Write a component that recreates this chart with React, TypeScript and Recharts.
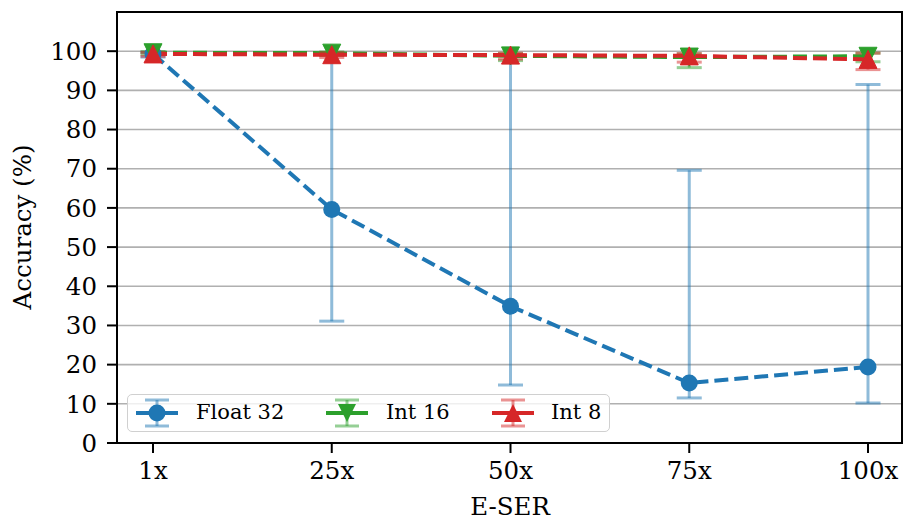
import React from "react";
import { LineChart, Line, XAxis, YAxis, CartesianGrid, ErrorBar } from "recharts";

const categories = ["1x", "25x", "50x", "75x", "100x"];
const float32 = [99.3, 59.6, 34.9, 15.3, 19.4];
const float32Err = [[0.8, 0.4], [28.5, 39.8], [20.1, 64.1], [3.8, 54.3], [9.2, 72.1]];
const int16 = [99.6, 99.5, 98.8, 98.5, 98.7];
const int16Err = [[0.4, 0.3], [0.6, 0.3], [1.2, 0.6], [2.7, 0.8], [1.4, 0.8]];
const int8 = [99.3, 99.1, 99.0, 98.8, 97.9];
const int8Err = [[0.6, 0.4], [0.7, 0.5], [1.0, 0.5], [1.6, 0.6], [2.6, 1.6]];
const yTicks = [0, 10, 20, 30, 40, 50, 60, 70, 80, 90, 100];

const BLUE = "#1f77b4";
const GREEN = "#2ca02c";
const RED = "#d62728";
const FONT = "'DejaVu Serif', serif";
const TICK_FS = 24.5;

const data = categories.map((c, i) => ({
  name: c,
  f32: float32[i],
  f32Err: float32Err[i],
  i16: int16[i],
  i16Err: int16Err[i],
  i8: int8[i],
  i8Err: int8Err[i],
}));

const M = 18;

function TriUp(props: any) {
  const { cx, cy, index } = props;
  if (cx == null || cy == null) return null;
  const h = M / 2;
  return (
    <path
      key={`up-${index}`}
      d={`M${cx},${cy - h} L${cx + h},${cy + h} L${cx - h},${cy + h} Z`}
      fill={RED}
      stroke={RED}
      strokeWidth={1}
    />
  );
}

function TriDown(props: any) {
  const { cx, cy, index } = props;
  if (cx == null || cy == null) return null;
  const h = M / 2;
  return (
    <path
      key={`down-${index}`}
      d={`M${cx},${cy + h} L${cx + h},${cy - h} L${cx - h},${cy - h} Z`}
      fill={GREEN}
      stroke={GREEN}
      strokeWidth={1}
    />
  );
}

function LegendIcon({ color, kind }: { color: string; kind: "circle" | "down" | "up" }) {
  const cx = 21;
  const cy = 17;
  let marker;
  if (kind === "circle") marker = <circle cx={cx} cy={cy} r={8.5} fill={color} />;
  else if (kind === "down")
    marker = <path d={`M${cx},${cy + 9} L${cx + 9},${cy - 9} L${cx - 9},${cy - 9} Z`} fill={color} />;
  else marker = <path d={`M${cx},${cy - 9} L${cx + 9},${cy + 9} L${cx - 9},${cy + 9} Z`} fill={color} />;
  return (
    <svg width={42} height={34} style={{ display: "block" }}>
      <g stroke={color} strokeOpacity={0.5} strokeWidth={3}>
        <line x1={cx} y1={4} x2={cx} y2={30} />
        <line x1={cx - 12} y1={4} x2={cx + 12} y2={4} />
        <line x1={cx - 12} y1={30} x2={cx + 12} y2={30} />
      </g>
      <line x1={0} y1={cy} x2={42} y2={cy} stroke={color} strokeWidth={4} />
      {marker}
    </svg>
  );
}

export default function App() {
  return (
    <div style={{ position: "relative", width: 904, height: 521, fontFamily: FONT, background: "#fff" }}>
      <style>{"body{margin:0}"}</style>
      <LineChart
        width={904}
        height={521}
        data={data}
        margin={{ top: 12, right: 1, bottom: 0, left: 0 }}
      >
        <CartesianGrid vertical={false} stroke="#b0b0b0" strokeWidth={1.6} />
        <XAxis
          dataKey="name"
          height={78}
          padding={{ left: 36, right: 35 }}
          tickLine={{ stroke: "#000", strokeWidth: 2 }}
          axisLine={{ stroke: "#000", strokeWidth: 2 }}
          tickSize={10}
          tickMargin={9}
          tick={{ fill: "#000", fontSize: TICK_FS, fontFamily: FONT }}
        />
        <YAxis
          width={117}
          domain={[0, 110]}
          ticks={yTicks}
          allowDataOverflow
          tickLine={{ stroke: "#000", strokeWidth: 2 }}
          axisLine={{ stroke: "#000", strokeWidth: 2 }}
          tickSize={10}
          tickMargin={10}
          tick={{ fill: "#000", fontSize: TICK_FS, fontFamily: FONT }}
        />
        <Line
          dataKey="f32"
          stroke={BLUE}
          strokeWidth={4}
          strokeDasharray="14 6"
          dot={{ r: 8.5, fill: BLUE, stroke: BLUE, strokeWidth: 0 }}
          isAnimationActive={false}
        >
          <ErrorBar dataKey="f32Err" width={12.5} stroke={BLUE} strokeOpacity={0.5} strokeWidth={3} direction="y" />
        </Line>
        <Line
          dataKey="i16"
          stroke={GREEN}
          strokeWidth={4}
          strokeDasharray="14 6"
          dot={TriDown}
          isAnimationActive={false}
        >
          <ErrorBar dataKey="i16Err" width={12.5} stroke={GREEN} strokeOpacity={0.5} strokeWidth={3} direction="y" />
        </Line>
        <Line
          dataKey="i8"
          stroke={RED}
          strokeWidth={4}
          strokeDasharray="14 6"
          dot={TriUp}
          isAnimationActive={false}
        >
          <ErrorBar dataKey="i8Err" width={12.5} stroke={RED} strokeOpacity={0.5} strokeWidth={3} direction="y" />
        </Line>
      </LineChart>

      {/* top and right frame */}
      <div style={{ position: "absolute", left: 116, top: 11, width: 787, height: 432, borderTop: "2px solid #000", borderRight: "2px solid #000", boxSizing: "border-box", pointerEvents: "none" }} />

      {/* legend */}
      <div
        style={{
          position: "absolute",
          left: 127,
          top: 394,
          width: 483,
          height: 38,
          boxSizing: "border-box",
          border: "1.5px solid #d0d0d0",
          borderRadius: 5,
          background: "rgba(255,255,255,0.8)",
          fontSize: 21,
          lineHeight: "26px",
          color: "#000",
        }}
      >
        <div style={{ position: "absolute", left: 8, top: 1 }}><LegendIcon color={BLUE} kind="circle" /></div>
        <div style={{ position: "absolute", left: 68, top: 4 }}>Float 32</div>
        <div style={{ position: "absolute", left: 198, top: 1 }}><LegendIcon color={GREEN} kind="down" /></div>
        <div style={{ position: "absolute", left: 258, top: 4 }}>Int 16</div>
        <div style={{ position: "absolute", left: 364, top: 1 }}><LegendIcon color={RED} kind="up" /></div>
        <div style={{ position: "absolute", left: 423, top: 4 }}>Int 8</div>
      </div>

      {/* axis titles */}
      <div style={{ position: "absolute", left: 0, width: 1020, top: 493, textAlign: "center", fontSize: TICK_FS, lineHeight: "28px" }}>
        E-SER
      </div>
      <div
        style={{
          position: "absolute",
          left: 23,
          top: 227,
          transform: "translate(-50%, -50%) rotate(-90deg)",
          whiteSpace: "nowrap",
          fontSize: TICK_FS,
          lineHeight: "28px",
        }}
      >
        Accuracy (%)
      </div>
    </div>
  );
}
